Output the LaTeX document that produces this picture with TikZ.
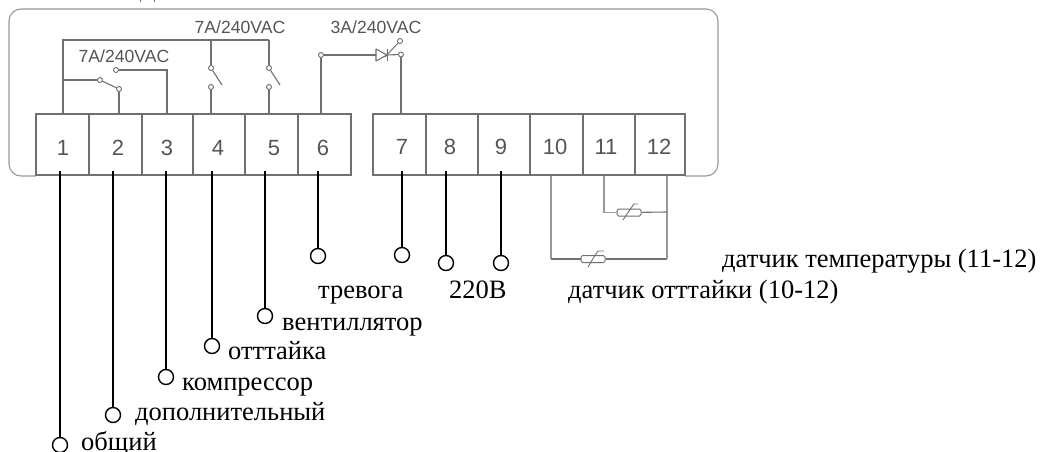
\documentclass[tikz,border=0pt]{standalone}
\usepackage{fontspec}
\setmainfont{Liberation Serif}
\newfontfamily\labelsans{Liberation Sans}
\definecolor{wire}{HTML}{707070}
\definecolor{frameg}{HTML}{999999}
\definecolor{inkg}{HTML}{555555}
\tikzset{
  wiring/.style={draw=wire,line width=1.1pt},
  framing/.style={draw=frameg,line width=1.1pt},
  termbox/.style={draw=wire,line width=1.1pt,minimum height=61pt,anchor=north west,inner sep=0pt,outer sep=0pt},
  digit/.style={text=inkg,font=\labelsans\fontsize{22}{22}\selectfont,inner sep=0pt},
  rating/.style={text=inkg,font=\labelsans\fontsize{17.6}{18}\selectfont,inner sep=0pt},
  contact/.style={circle,draw=wire,line width=.9pt,fill=white,minimum size=5pt,inner sep=0pt},
  lead/.style={draw=black,line width=1.6pt},
  endring/.style={circle,draw=black,line width=1.4pt,fill=white,minimum size=15pt,inner sep=0pt},
  caption/.style={text=black,font=\fontsize{26.5}{27}\selectfont,inner sep=0pt,anchor=base west},
  thermistor/.style={draw=wire,line width=1pt,fill=white,rounded corners=1.5pt,minimum width=24pt,minimum height=7pt,inner sep=0pt},
}
\begin{document}
\begin{tikzpicture}[x=1pt,y=-1pt]
\useasboundingbox (0,0) rectangle (1042,452);
\fill[white] (0,0) rectangle (1042,452);
\draw[framing,rounded corners=12pt] (36,176) -- (9,176) -- (9,9) -- (718,9) -- (718,176) -- (685,176);
% remnants at the cut top edge
\draw[wire,line width=1pt] (140,0) -- (140,2) (154.5,0) -- (154.5,2);
% terminals
\foreach \n/\xa/\xb in {t1/36/89,t2/89/142,t3/142/193,t4/193/245,t5/245/298,t6/298/351,
                        t7/373/426,t8/426/478,t9/478/530,t10/530/583,t11/583/635,t12/635/685}{
  \pgfmathsetmacro{\boxw}{\xb-\xa}
  \node[termbox,minimum width=\boxw pt] (\n) at (\xa,114) {};
}
\foreach \t/\x/\y/\s in {t1/63/148/1,t2/118/148/2,t3/167/148/3,t4/218/148/4,t5/274/148/5,t6/323/148/6,t7/402/147/7,t8/450/147/8,t9/501/147/9,t10/555/147/10,t11/606/147/11,t12/659/147/12}{
  \node[digit] (d\t) at (\x,\y) {\s};
}
\node[rating] (r1) at (124,56) {7A/240VAC};
\node[rating] (r2) at (240,27) {7A/240VAC};
\node[rating] (r3) at (376,27) {3A/240VAC};
% wiring coordinates on the terminals
\coordinate (p1) at (63,114);
\coordinate (p2) at (119,114);
\coordinate (p3) at (167,114);
\coordinate (p4) at (211,114);
\coordinate (p5) at (269,114);
\coordinate (p6) at (321,114);
\coordinate (p7) at (401,114);
\coordinate (tj1) at (63,40);
\coordinate (tj4) at (211,40);
\coordinate (tj5) at (269,40);
\coordinate (j1) at (63,80);
\draw[wiring] (p1) -- (tj1) -- (tj5);
% relay 1
\node[contact] (c1a) at (100,80) {};
\node[contact] (c1b) at (119,89) {};
\node[contact] (c1c) at (116,70) {};
\draw[wiring] (j1) -- (c1a);
\draw[wiring] (c1a) -- (c1b);
\draw[wiring] (c1b) -- (p2);
\draw[wiring] (c1c) -| (p3);
% relay 4, 5
\node[contact] (c4a) at (211,68) {};
\node[contact] (c4b) at (211,87) {};
\node[contact] (c5a) at (269,68) {};
\node[contact] (c5b) at (269,87) {};
\coordinate (b4) at (222,85);
\coordinate (b5) at (280,85);
\draw[wiring] (tj4) -- (c4a);
\draw[wiring] (tj5) -- (c5a);
\draw[wiring] (c4a) -- (b4);
\draw[wiring] (c5a) -- (b5);
\draw[wiring] (c4b) -- (p4);
\draw[wiring] (c5b) -- (p5);
% triac output
\node[contact] (c6) at (321,55) {};
\node[contact] (c7) at (401,54.5) {};
\node[contact] (c7b) at (400,41) {};
\coordinate (dA) at (376,55);
\coordinate (dB) at (387,55);
\draw[wiring] (c6) -- (p6);
\draw[wiring] (c6) -- (dA);
\draw[wiring,line join=round] (376,49) -- (376,61) -- (387,55) -- cycle;
\draw[wiring,line width=.9pt] (387,49) -- (387,61);
\draw[wiring] (dB) -- (c7);
\draw[wiring,line width=.9pt] (385,57) -- (c7b);
\draw[wiring] (c7) -- (p7);
% black leads
\foreach \n/\x/\y in {e1/60/445,e2/113/415,e3/166/377,e4/212/346,e5/265/316,e6/318/256,e7/402/255,e8/446/263,e9/501/263}{
  \node[endring] (\n) at (\x,\y) {};
  \draw[lead] (\x,171) -- (\n);
}
% sensors
\coordinate (s10) at (551,176);
\coordinate (s11) at (604,176);
\coordinate (s12) at (667,176);
\coordinate (bc10) at (551,259);
\coordinate (bc12) at (667,259);
\coordinate (uc11) at (604,212.5);
\coordinate (uc12) at (667,212);
\node[thermistor] (rt2) at (593,259) {};
\node[thermistor] (rt1) at (629,212.5) {};
\draw[framing] (s10) -- (bc10);
\draw[wiring] (bc10) -- (rt2);
\draw[wiring] (rt2) -- (bc12);
\draw[framing] (bc12) -- (s12);
\draw[framing] (s11) -- (uc11) -- (rt1);
\draw[wiring] (rt1) -- (uc12);
\draw[wiring,line width=.9pt] (588,267) -- (594,257) -- (598,251) -- (604,251);
\draw[wiring,line width=.9pt] (623,220) -- (629,211) -- (634,204) -- (638,204);
% labels
\node[caption] (l1) at (81,450) {общий};
\node[caption] (l2) at (135,420) {дополнительный};
\node[caption] (l3) at (182,390) {компрессор};
\node[caption] (l4) at (228,359) {отттайка};
\node[caption] (l5) at (282,330) {вентиллятор};
\node[caption] (l6) at (318,298) {тревога};
\node[caption] (l8) at (449,298) {220В};
\node[caption] (l10) at (568,298) {датчик отттайки (10-12)};
\node[caption] (l11) at (722,267) {датчик температуры (11-12)};
\end{tikzpicture}
\end{document}
